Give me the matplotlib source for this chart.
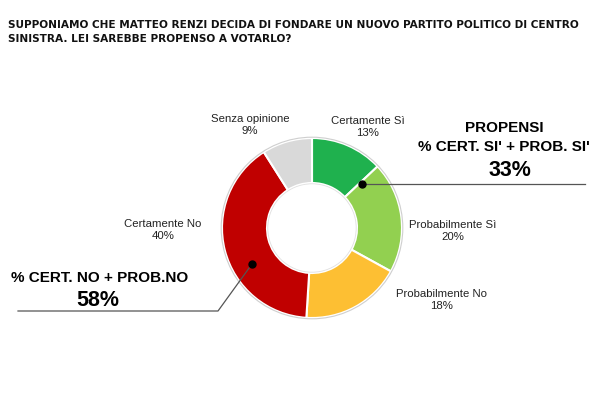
import matplotlib
matplotlib.use("Agg")
import matplotlib.pyplot as plt

labels = ["Certamente Sì", "Probabilmente Sì", "Probabilmente No", "Certamente No", "Senza opinione"]
values = [13, 20, 18, 40, 9]
colors = ["#1fb14e", "#92d050", "#fdbf33", "#c00000", "#d9d9d9"]

title = ("SUPPONIAMO CHE MATTEO RENZI DECIDA DI FONDARE UN NUOVO PARTITO POLITICO DI CENTRO\n"
         "SINISTRA. LEI SAREBBE PROPENSO A VOTARLO?")

W, H = 603, 397
fig = plt.figure(figsize=(W / 100, H / 100), dpi=100)
ax = fig.add_axes([0, 0, 1, 1])


def py(y):
    # pixel row from top -> data y
    return H - y


cx, cy, r = 312, py(228), 90
ax.pie(values, colors=colors, startangle=90, counterclock=False,
       radius=r, center=(cx, cy), frame=True,
       wedgeprops=dict(width=r * 0.5, edgecolor="white", linewidth=1.5))
# faint outline around the ring
ax.add_patch(plt.Circle((cx, cy), r + 0.8, fill=False, color="#cfcfcf", lw=0.8))
ax.add_patch(plt.Circle((cx, cy), r * 0.5 - 0.8, fill=False, color="#e0e0e0", lw=0.6))
ax.set_xlim(0, W)
ax.set_ylim(0, H)
ax.set_aspect("equal")
ax.axis("off")

ax.text(8, py(32.5), title, fontsize=7.6, fontweight="bold", family="DejaVu Sans",
        ha="left", va="center", linespacing=1.5, color="#111111")

lab = dict(fontsize=8.2, family="Liberation Sans", color="#222222", linespacing=1.15)
ax.text(250, py(125), f"{labels[4]}\n{values[4]}%", ha="center", va="center", **lab)
ax.text(368, py(127), f"{labels[0]}\n{values[0]}%", ha="center", va="center", **lab)
ax.text(453, py(231), f"{labels[1]}\n{values[1]}%", ha="center", va="center", **lab)
ax.text(442, py(300), f"{labels[2]}\n{values[2]}%", ha="center", va="center", **lab)
ax.text(163, py(230), f"{labels[3]}\n{values[3]}%", ha="center", va="center", **lab)

si = values[0] + values[1]
no = values[2] + values[3]

# right annotation
ax.plot([362, 585], [py(184), py(184)], color="#555555", lw=0.9)
ax.plot([362], [py(184)], "o", color="black", ms=5)
ax.text(504, py(128), "PROPENSI", ha="center", va="center", fontsize=11,
        fontweight="bold", family="Liberation Sans")
ax.text(504, py(147), "% CERT. SI' + PROB. SI'", ha="center", va="center", fontsize=11,
        fontweight="bold", family="Liberation Sans")
ax.text(510, py(171), f"{si}%", ha="center", va="center", fontsize=15.5,
        fontweight="bold", family="Liberation Sans")

# left annotation
ax.plot([18, 218, 252], [py(311), py(311), py(264)], color="#555555", lw=0.9)
ax.plot([252], [py(264)], "o", color="black", ms=5)
ax.text(100, py(278), "% CERT. NO + PROB.NO", ha="center", va="center", fontsize=11,
        fontweight="bold", family="Liberation Sans")
ax.text(98, py(301), f"{no}%", ha="center", va="center", fontsize=15.5,
        fontweight="bold", family="Liberation Sans")

fig.savefig("out.png", dpi=100)
